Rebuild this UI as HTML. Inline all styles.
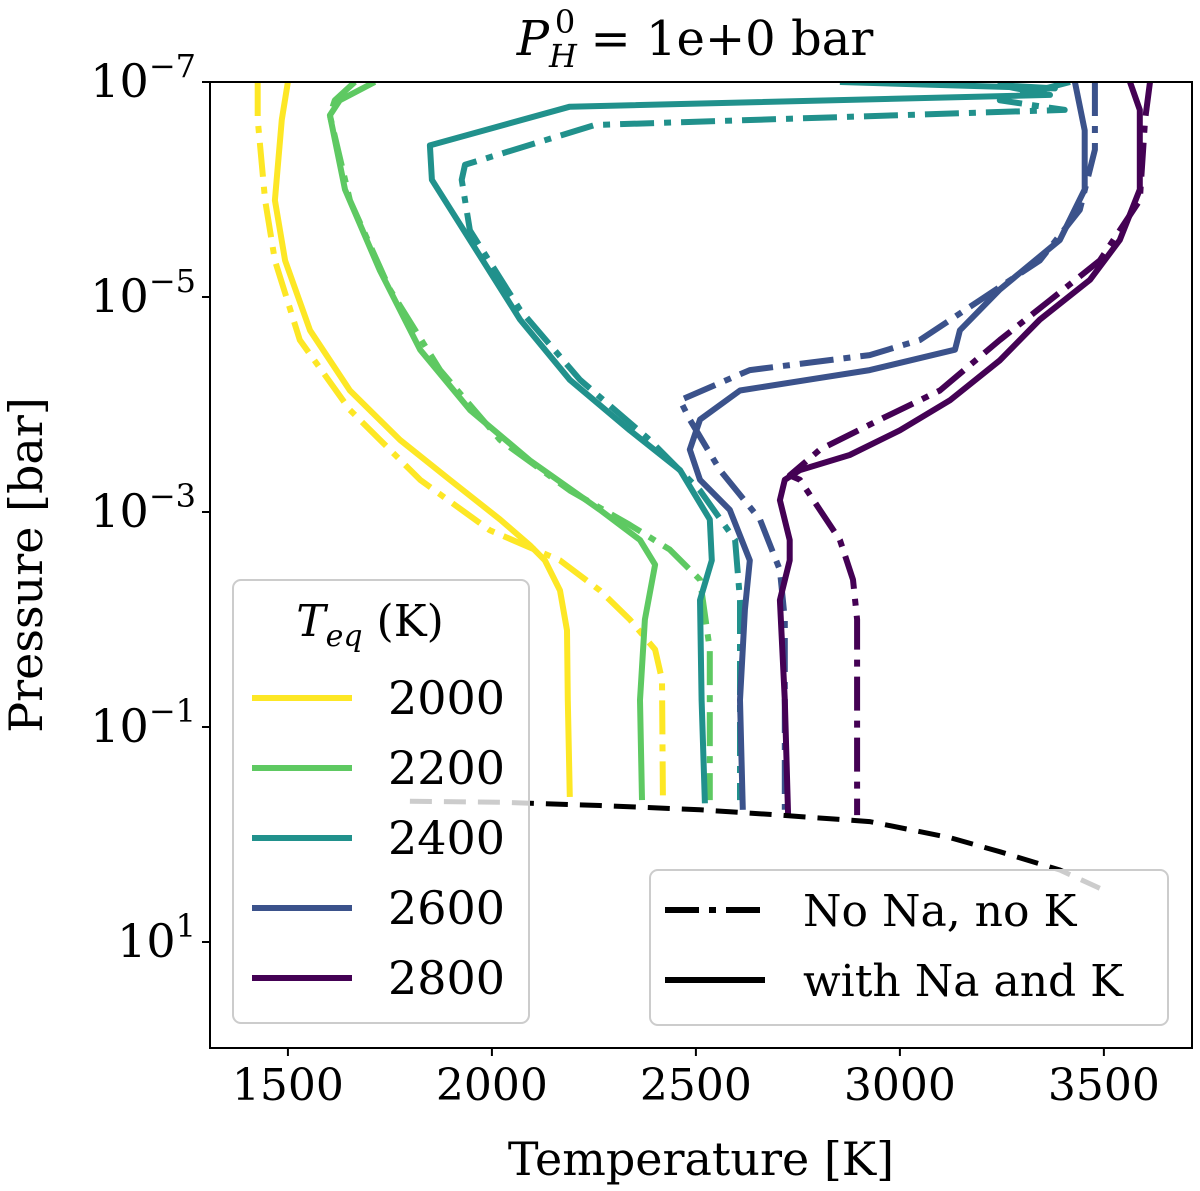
<!DOCTYPE html>
<html><head><meta charset="utf-8"><style>
body{margin:0;background:#fff}
svg{display:block;font-family:"DejaVu Serif","Liberation Serif",serif}
</style></head><body>
<svg id="chart" width="1200" height="1191" viewBox="0 0 1200 1191" xmlns="http://www.w3.org/2000/svg">
<g id="plot"></g>
<g id="axes"></g>
</svg>
<script>
// ---- data (temperature in K, pressure as log10 bar) ----
const teqLabels = ["2000","2200","2400","2600","2800"];
const seriesColors = ["#fde725","#5ec962","#21918c","#3b528b","#440154"];
const xTicks = [1500,2000,2500,3000,3500];
const yTicks = [-7,-5,-3,-1,1];

const solidT_2000 = [1500,1485,1468,1493,1554,1652,1775,1897,2020,2093,2130,2167,2184,2186,2191];
const solidP_2000 = [-7,-6.65,-5.90,-5.34,-4.69,-4.13,-3.67,-3.30,-2.93,-2.69,-2.55,-2.27,-1.90,-1.25,-0.35];
const ddT_2000 = [1426,1426,1444,1468,1529,1652,1824,1995,2167,2265,2338,2400,2417,2419];
const ddP_2000 = [-7,-6.65,-5.90,-5.34,-4.60,-3.95,-3.30,-2.83,-2.55,-2.27,-2.00,-1.72,-1.44,-0.35];

const solidT_2200 = [1713,1627,1603,1640,1725,1824,1946,2093,2265,2363,2400,2375,2363,2368];
const solidP_2200 = [-7,-6.83,-6.69,-6.00,-5.25,-4.51,-3.95,-3.48,-3.02,-2.74,-2.51,-2.00,-1.25,-0.32];
const ddT_2200 = [1664,1615,1603,1652,1750,1873,2020,2191,2338,2436,2510,2534,2534];
const ddP_2200 = [-7,-6.83,-6.69,-5.90,-5.07,-4.32,-3.67,-3.20,-2.88,-2.65,-2.37,-1.72,-0.32];

const solidT_2400 = [2853,3380,3245,3368,2191,1848,1853,1946,2069,2191,2338,2461,2534,2539,2510,2514,2522];
const solidP_2400 = [-7,-6.94,-6.97,-6.88,-6.77,-6.41,-6.09,-5.53,-4.79,-4.23,-3.76,-3.39,-2.93,-2.55,-2.18,-1.25,-0.29];
const ddT_2400 = [3417,3245,3404,2252,1934,1926,1946,2069,2216,2387,2510,2596,2608,2608];
const ddP_2400 = [-7,-6.83,-6.74,-6.60,-6.23,-6.09,-5.62,-4.88,-4.23,-3.67,-3.20,-2.74,-2.18,-0.32];

const solidT_2600 = [3429,3453,3453,3392,3245,3147,3135,2926,2608,2510,2485,2510,2583,2632,2620,2608,2615];
const solidP_2600 = [-7,-6.55,-6.00,-5.53,-5.07,-4.69,-4.51,-4.32,-4.13,-3.86,-3.58,-3.30,-3.02,-2.55,-2.09,-1.25,-0.23];
const ddT_2600 = [3478,3478,3441,3343,3196,3049,2926,2632,2461,2485,2559,2657,2706,2718,2718];
const ddP_2600 = [-7,-6.37,-5.81,-5.34,-4.97,-4.60,-4.46,-4.32,-4.04,-3.86,-3.39,-2.93,-2.46,-2.00,-0.23];

const solidT_2800 = [3564,3588,3588,3539,3466,3343,3245,3123,3000,2877,2755,2718,2706,2730,2730,2706,2718,2726];
const solidP_2800 = [-7,-6.74,-6.00,-5.53,-5.16,-4.79,-4.41,-4.04,-3.76,-3.53,-3.39,-3.30,-3.11,-2.74,-2.55,-2.18,-1.25,-0.18];
const ddT_2800 = [3613,3601,3588,3490,3368,3245,3098,2951,2804,2730,2755,2853,2885,2895,2895];
const ddP_2800 = [-7,-6.65,-5.90,-5.34,-4.97,-4.60,-4.13,-3.86,-3.58,-3.34,-3.30,-2.74,-2.37,-2.00,-0.18];

const boundaryT = [1799,2020,2265,2510,2706,2926,3123,3245,3392,3490];
const boundaryP = [-0.31,-0.30,-0.27,-0.23,-0.18,-0.12,0.03,0.16,0.33,0.50];

// ---- axes ----
const L=210,R=1192,T=82,B=1048;
const xMin=1309,xMax=3716;
const yTop=-7, yPerDec=107.5;
const xs = t => L + (t-xMin)/(xMax-xMin)*(R-L);
const ys = lp => T + (lp-yTop)*yPerDec;
const NS="http://www.w3.org/2000/svg";
function mk(tag,attrs,parent){const e=document.createElementNS(NS,tag);for(const k in attrs)e.setAttribute(k,attrs[k]);parent.appendChild(e);return e;}
const plot=document.getElementById('plot'), axes=document.getElementById('axes'), svg=document.getElementById('chart');

const defs=mk('defs',{},svg);
const cp=mk('clipPath',{id:'clip'},defs);
mk('rect',{x:L,y:T,width:R-L,height:B-T},cp);
plot.setAttribute('clip-path','url(#clip)');

const solidT=[solidT_2000,solidT_2200,solidT_2400,solidT_2600,solidT_2800];
const solidP=[solidP_2000,solidP_2200,solidP_2400,solidP_2600,solidP_2800];
const ddT=[ddT_2000,ddT_2200,ddT_2400,ddT_2600,ddT_2800];
const ddP=[ddP_2000,ddP_2200,ddP_2400,ddP_2600,ddP_2800];
const pts=(tA,pA)=>tA.map((t,i)=>xs(t).toFixed(1)+','+ys(pA[i]).toFixed(1)).join(' ');

for(let i=0;i<5;i++){
  const s=mk('polyline',{points:pts(solidT[i],solidP[i]),fill:'none',stroke:seriesColors[i],'stroke-width':6,'stroke-linejoin':'round'},plot);
  
  
  const d=mk('polyline',{points:pts(ddT[i],ddP[i]),fill:'none',stroke:seriesColors[i],'stroke-width':6,'stroke-dasharray':'34 10 7 10','stroke-linejoin':'round'},plot);
  
  
}
const bl=mk('polyline',{points:pts(boundaryT,boundaryP),fill:'none',stroke:'#000','stroke-width':5,'stroke-dasharray':'22 12'},plot);



const fr=mk('rect',{x:L,y:T,width:R-L,height:B-T,fill:'none',stroke:'#000','stroke-width':2},axes);



xTicks.forEach(v=>{
  const x=xs(v);
  mk('line',{x1:x,y1:B,x2:x,y2:B+8,stroke:'#000','stroke-width':2},axes);
  const t=mk('text',{x:x,y:B+52,'font-size':44,'text-anchor':'middle'},axes);
  t.textContent=v;
  
  
});
yTicks.forEach(v=>{
  const y=ys(v);
  mk('line',{x1:L-8,y1:y,x2:L,y2:y,stroke:'#000','stroke-width':2},axes);
  const t=mk('text',{x:L-14,y:y+15,'font-size':46,'text-anchor':'end'},axes);
  
  
  const a=mk('tspan',{},t); a.textContent='10';
  const b=mk('tspan',{dy:-20,'font-size':32},t); b.textContent=(v<0?'\u2212'+(-v):String(v));
});
</script>

<svg style="position:absolute;left:0;top:0" width="1200" height="1191" xmlns="http://www.w3.org/2000/svg" font-family="DejaVu Serif, Liberation Serif, serif">
<text x="695" y="55" font-size="48" text-anchor="middle"><tspan font-style="italic">P</tspan><tspan font-size="32" dy="12" font-style="italic">H</tspan><tspan font-size="32" dx="-22" dy="-34">0</tspan><tspan dy="22"> = 1e+0 bar</tspan></text>
<text x="701" y="1175" font-size="46" text-anchor="middle">Temperature [K]</text>
<text transform="translate(42,565) rotate(-90)" font-size="46" text-anchor="middle">Pressure [bar]</text>

<g>
<rect x="233" y="580" width="296" height="443" rx="8" fill="#fff" fill-opacity="0.8" stroke="#ccc" stroke-width="2"/>
<text x="370" y="636" font-size="44" text-anchor="middle"><tspan font-style="italic">T</tspan><tspan font-size="30" font-style="italic" dy="10">eq</tspan><tspan dy="-10"> (K)</tspan></text>
<g><line x1="252" y1="698" x2="352" y2="698" stroke="#fde725" stroke-width="6"/><text x="388" y="714" font-size="46">2000</text></g>
<g><line x1="252" y1="768" x2="352" y2="768" stroke="#5ec962" stroke-width="6"/><text x="388" y="784" font-size="46">2200</text></g>
<g><line x1="252" y1="838" x2="352" y2="838" stroke="#21918c" stroke-width="6"/><text x="388" y="854" font-size="46">2400</text></g>
<g><line x1="252" y1="908" x2="352" y2="908" stroke="#3b528b" stroke-width="6"/><text x="388" y="924" font-size="46">2600</text></g>
<g><line x1="252" y1="978" x2="352" y2="978" stroke="#440154" stroke-width="6"/><text x="388" y="994" font-size="46">2800</text></g>
</g>

<g>
<rect x="650" y="870" width="518" height="155" rx="8" fill="#fff" fill-opacity="0.8" stroke="#ccc" stroke-width="2"/>
<g><line x1="665" y1="910" x2="765" y2="910" stroke="#000" stroke-width="6" stroke-dasharray="34 10 7 10"/><text x="803" y="926" font-size="44">No Na, no K</text></g>
<g><line x1="665" y1="980" x2="765" y2="980" stroke="#000" stroke-width="6"/><text x="803" y="996" font-size="44">with Na and K</text></g>
</g>
</svg>
</body></html>
